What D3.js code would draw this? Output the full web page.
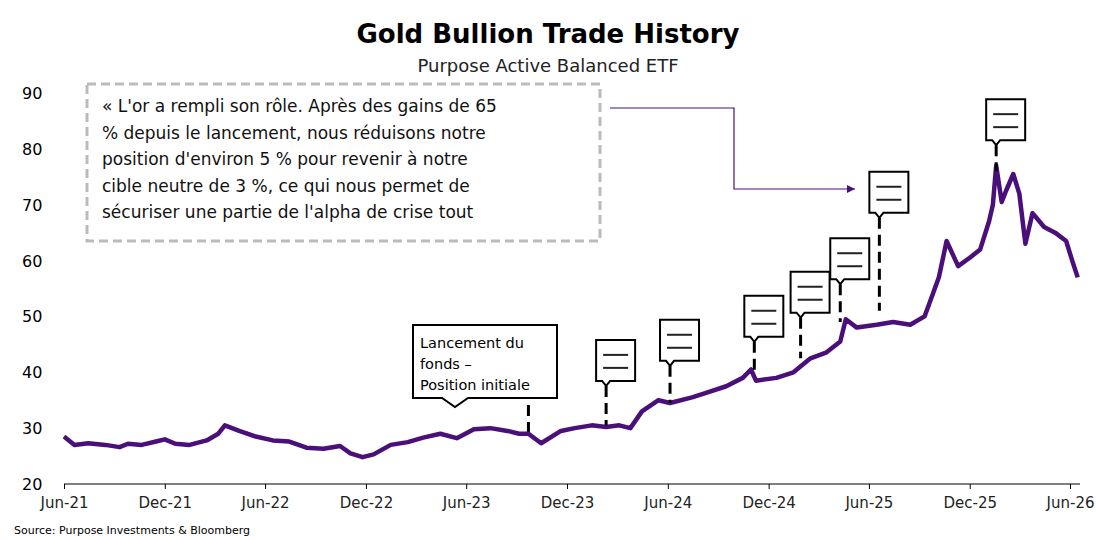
<!DOCTYPE html>
<html><head><meta charset="utf-8">
<script src="https://cdn.jsdelivr.net/npm/d3@7"></script>
<style>body{margin:0;background:#fff}text{font-family:"DejaVu Sans",sans-serif}</style>
</head><body><div id="chart"></div>
<script>
const dates = ["2021-06-01","2021-06-20","2021-07-15","2021-08-15","2021-09-10","2021-09-25","2021-10-20","2021-11-15","2021-12-01","2021-12-20","2022-01-15","2022-02-15","2022-03-08","2022-03-20","2022-04-15","2022-05-15","2022-06-15","2022-07-15","2022-08-15","2022-09-15","2022-10-15","2022-11-03","2022-11-25","2022-12-15","2023-01-15","2023-02-15","2023-03-15","2023-04-15","2023-05-15","2023-06-15","2023-07-15","2023-08-15","2023-09-05","2023-09-22","2023-10-15","2023-11-20","2023-12-15","2024-01-15","2024-02-10","2024-03-05","2024-03-25","2024-04-15","2024-05-15","2024-06-05","2024-07-15","2024-08-15","2024-09-15","2024-10-15","2024-10-30","2024-11-08","2024-12-15","2025-01-15","2025-02-15","2025-03-15","2025-04-10","2025-04-20","2025-05-10","2025-06-15","2025-07-15","2025-08-15","2025-09-10","2025-09-25","2025-10-06","2025-10-20","2025-11-10","2025-12-01","2025-12-20","2026-01-05","2026-01-12","2026-01-18","2026-01-28","2026-02-05","2026-02-18","2026-03-01","2026-03-12","2026-03-25","2026-04-15","2026-05-05","2026-05-25","2026-06-05","2026-06-15"];
const values = [28.5,27.0,27.3,27.0,26.6,27.2,27.0,27.6,28.0,27.2,27.0,27.8,29.0,30.5,29.5,28.5,27.8,27.6,26.5,26.3,26.8,25.5,24.8,25.3,27.0,27.5,28.3,29.0,28.2,29.8,30.0,29.5,29.0,29.0,27.3,29.5,30.0,30.5,30.2,30.5,30.0,33.0,35.0,34.5,35.5,36.5,37.5,39.0,40.5,38.5,39.0,40.0,42.5,43.5,45.5,49.5,48.0,48.5,49.0,48.5,50.0,54.0,57.0,63.5,59.0,60.5,62.0,67.0,70.0,77.0,70.5,72.5,75.5,72.0,63.0,68.5,66.0,65.0,63.5,60.0,57.0];
const yTicks = [20,30,40,50,60,70,80,90];
const xTicks = ["2021-06-01","2021-12-01","2022-06-01","2022-12-01","2023-06-01","2023-12-01","2024-06-01","2024-12-01","2025-06-01","2025-12-01","2026-06-01"];
const launchDate = "2023-09-22";
const calloutDates = ["2024-02-10","2024-06-05","2024-11-05","2025-01-28","2025-04-10","2025-06-20","2026-01-18"];
const calloutTops = [45.8,49.4,53.7,58.0,64.0,75.9,88.9];
const calloutLineEnds = [30.5,34.5,39.5,42.5,49,51,76];
const quoteLines = ["« L'or a rempli son rôle. Après des gains de 65","% depuis le lancement, nous réduisons notre","position d'environ 5 % pour revenir à notre","cible neutre de 3 %, ce qui nous permet de","sécuriser une partie de l'alpha de crise tout"];
const launchLines = ["Lancement du","fonds –","Position initiale"];

const w = 1096, h = 540, purple = "#4b0f7a";
const parse = d3.timeParse("%Y-%m-%d");
const fmt = d3.timeFormat("%b-%y");
const x = d3.scaleTime().domain([parse("2021-06-01"), parse("2026-06-01")]).range([64, 1070]);
const y = d3.scaleLinear().domain([20, 90]).range([484, 93]);
const data = dates.map((d, i) => ({date: parse(d), value: values[i]}));

const svg = d3.select("#chart").append("svg").attr("width", w).attr("height", h);

svg.append("text").attr("x", 548).attr("y", 43).attr("text-anchor", "middle")
  .attr("font-size", 26).attr("font-weight", "bold").text("Gold Bullion Trade History");
svg.append("text").attr("x", 548).attr("y", 72).attr("text-anchor", "middle")
  .attr("font-size", 18).attr("fill", "#222").text("Purpose Active Balanced ETF");
svg.append("text").attr("x", 14).attr("y", 534).attr("font-size", 11).text("Source: Purpose Investments & Bloomberg");

svg.append("g").selectAll("text").data(yTicks).join("text")
  .attr("x", 22).attr("y", d => y(d) + 6).attr("font-size", 16).text(d => d);

const xAxis = svg.append("g").attr("transform", `translate(0,${y(20)})`)
  .call(d3.axisBottom(x).tickValues(xTicks.map(parse)).tickFormat(fmt).tickSize(5).tickPadding(8));
xAxis.select(".domain").attr("d", "M64,0H1080").attr("stroke", "#000");
xAxis.selectAll("text").attr("font-size", 15).attr("font-family", "DejaVu Sans").attr("fill", "#222");

// quote box
svg.append("rect").attr("x", 87).attr("y", 84).attr("width", 513).attr("height", 157)
  .attr("fill", "#fff").attr("stroke", "#bbb").attr("stroke-width", 3).attr("stroke-dasharray", "9,5");
svg.append("g").selectAll("text").data(quoteLines).join("text")
  .attr("x", 102).attr("y", (d, i) => 112 + i * 26.5).attr("font-size", 17).attr("fill", "#111").text(d => d);
svg.append("defs").append("marker").attr("id", "arr").attr("viewBox", "0 0 10 10")
  .attr("refX", 10).attr("refY", 5).attr("markerWidth", 7).attr("markerHeight", 7).attr("orient", "auto")
  .append("path").attr("d", "M0,0L10,5L0,10Z").attr("fill", purple);
svg.append("path").attr("d", "M610,108H734V189H855").attr("fill", "none")
  .attr("stroke", purple).attr("stroke-width", 1.2).attr("marker-end", "url(#arr)");

// launch callout
const lx = x(parse(launchDate));
svg.append("line").attr("x1", lx).attr("x2", lx).attr("y1", 405).attr("y2", y(28.2))
  .attr("stroke", "#000").attr("stroke-width", 3).attr("stroke-dasharray", "11,6");
svg.append("path").attr("d", "M413,325H557V398H468L455,407L442,398H413Z")
  .attr("fill", "#fff").attr("stroke", "#000").attr("stroke-width", 2);
svg.append("g").selectAll("text").data(launchLines).join("text")
  .attr("x", 420).attr("y", (d, i) => 348 + i * 21).attr("font-size", 14.5).text(d => d);

// line
svg.append("path").datum(data)
  .attr("d", d3.line().x(d => x(d.date)).y(d => y(d.value)))
  .attr("fill", "none").attr("stroke", purple).attr("stroke-width", 4.5).attr("stroke-linejoin", "round");

// note callouts
calloutDates.forEach((d, i) => {
  const cx = x(parse(d)), t = y(calloutTops[i]);
  const bh = 41, bw = 39;
  svg.append("line").attr("x1", cx).attr("x2", cx).attr("y1", t + bh + 5).attr("y2", y(calloutLineEnds[i]))
    .attr("stroke", "#000").attr("stroke-width", 3).attr("stroke-dasharray", "11,6");
  svg.append("path").attr("d", `M${cx - 10},${t}h${bw}v${bh}h-${bw - 14}l-4,5l-4,-5h-6z`)
    .attr("fill", "#fff").attr("stroke", "#000").attr("stroke-width", 2);
  [15, 28].forEach(o => svg.append("line").attr("x1", cx - 3).attr("x2", cx + 22)
    .attr("y1", t + o).attr("y2", t + o).attr("stroke", "#222").attr("stroke-width", 2));
});
</script></body></html>
